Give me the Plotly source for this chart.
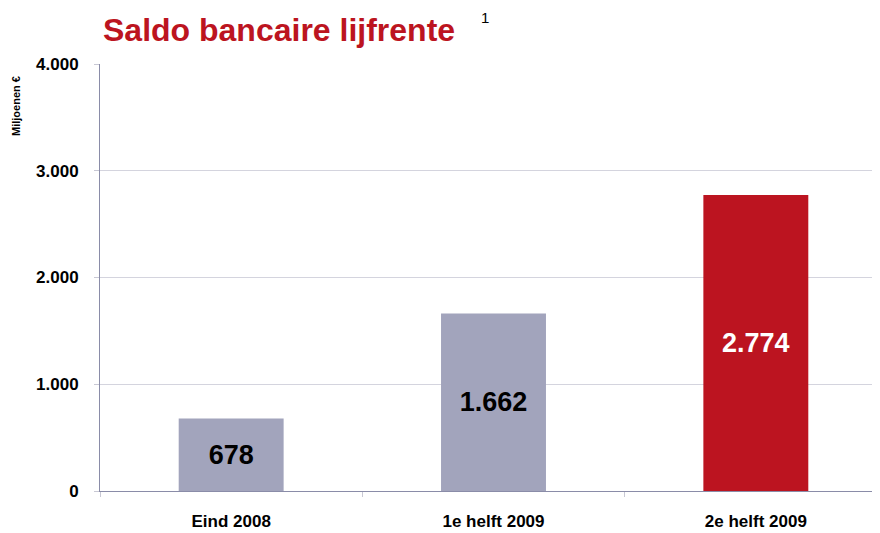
import plotly.graph_objects as go

categories = ["Eind 2008", "1e helft 2009", "2e helft 2009"]
values = [678, 1662, 2774]
value_labels = ["678", "1.662", "2.774"]
bar_colors = ["#A2A4BC", "#A2A4BC", "#BC1420"]
label_colors = ["#000000", "#000000", "#FFFFFF"]
y_ticks = [0, 1000, 2000, 3000, 4000]
y_tick_labels = ["0", "1.000", "2.000", "3.000", "4.000"]

FONT = "Liberation Sans, Arial, sans-serif"

fig = go.Figure(
    go.Bar(
        x=categories,
        y=values,
        text=value_labels,
        textposition="inside",
        insidetextanchor="middle",
        textangle=0,
        textfont=dict(family=FONT, size=27, color=label_colors, weight="bold"),
        marker=dict(color=bar_colors, line=dict(width=0)),
        width=0.40,
    )
)

# page has an 8px body margin; the plot area runs slightly past the right edge
fig.update_layout(
    width=880,
    height=525,
    margin=dict(l=92, r=1, t=56, b=42),
    plot_bgcolor="white",
    paper_bgcolor="white",
    showlegend=False,
    font=dict(family=FONT, color="#000000"),
    xaxis=dict(
        showline=True,
        linecolor="#8A8CA8",
        linewidth=1,
        ticks="outside",
        tickson="boundaries",
        ticklen=5,
        tickcolor="#C8C8D4",
        tickfont=dict(family=FONT, size=17, weight="bold"),
        ticklabelstandoff=15,
        showgrid=False,
    ),
    yaxis=dict(
        range=[0, 4000],
        tickvals=y_ticks,
        ticktext=y_tick_labels,
        showline=True,
        linecolor="#8A8CA8",
        linewidth=1,
        ticks="outside",
        ticklen=5,
        tickcolor="#C8C8D4",
        tickfont=dict(family=FONT, size=17, weight="bold"),
        ticklabelstandoff=12,
        showgrid=True,
        gridcolor="#D4D4DE",
        gridwidth=1,
        zeroline=False,
    ),
    annotations=[
        dict(
            text="Saldo bancaire lijfrente",
            xref="paper", yref="paper",
            x=0.0, y=1.0,
            xanchor="left", yanchor="bottom",
            xshift=1, yshift=14,
            showarrow=False,
            font=dict(family=FONT, size=32, color="#BC1420", weight="bold"),
        ),
        dict(
            text="1",
            xref="paper", yref="paper",
            x=0.0, y=1.0,
            xanchor="left", yanchor="bottom",
            xshift=379, yshift=36,
            showarrow=False,
            font=dict(family=FONT, size=15, color="#000000"),
        ),
        dict(
            text="Miljoenen €",
            xref="paper", yref="paper",
            x=0.0, y=1.0,
            xanchor="center", yanchor="middle",
            xshift=-84, yshift=-42,
            textangle=-90,
            showarrow=False,
            font=dict(family=FONT, size=11, color="#000000", weight="bold"),
        ),
    ],
)

fig.write_html("out.html")
